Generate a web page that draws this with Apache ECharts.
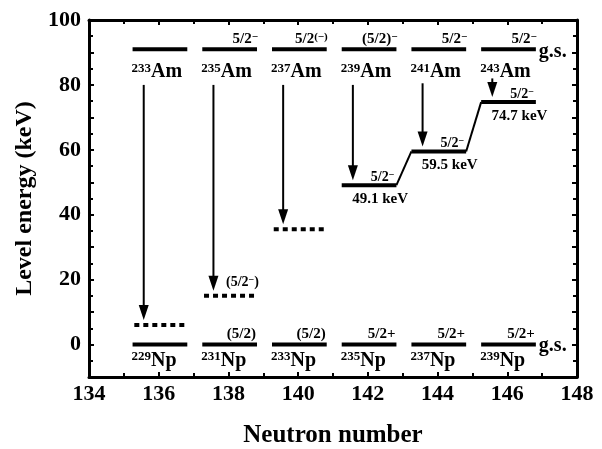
<!DOCTYPE html>
<html>
<head>
<meta charset="utf-8">
<script src="https://cdn.jsdelivr.net/npm/echarts@6/dist/echarts.min.js"></script>
<style>
  html, body { margin: 0; padding: 0; background: #fff; }
  #chart { width: 602px; height: 449px; }
</style>
</head>
<body>
<div id="chart"></div>
<script>
// Neutron number of each Np daughter: one Am -> Np alpha-decay column per entry
const neutronNumber = [136, 138, 140, 142, 144, 146];
const amMass = ['233', '235', '237', '239', '241', '243'];
const npMass = ['229', '231', '233', '235', '237', '239'];
// Ground-state spins; text inside {} is written as a superscript
const amSpin = ['', '5/2{−}', '5/2{(−)}', '(5/2){−}', '5/2{−}', '5/2{−}'];
const npSpin = ['', '(5/2)', '(5/2)', '5/2+', '5/2+', '5/2+'];
// Heights (keV scale) at which the ground states are drawn
const amGroundLevel = [91, 91, 91, 91, 91, 91];
const npGroundLevel = [0, 0, 0, 0, 0, 0];
// Np levels fed by the alpha decay (keV)
const fedLevel = [6, 15, 35.5, 49.1, 59.5, 74.7];
const fedTentative = [true, true, true, false, false, false];
const fedSpin = ['', '(5/2{−})', '', '5/2{−}', '5/2{−}', '5/2{−}'];
// Energy at which each alpha arrow starts (keV)
const arrowStart = [80, 80, 80, 80, 80.5, 82];
// Axis ticks
const xTicks = { min: 134, max: 148, step: 2 };
const yTicks = { min: -10, max: 100, step: 10, labelStep: 20 };

const serif = '"Liberation Serif", "Times New Roman", serif';
const black = '#000';

const rich = {
  nm: { fontFamily: serif, fontWeight: 'bold', fontSize: 20, lineHeight: 20, verticalAlign: 'bottom', color: black },
  ms: { fontFamily: serif, fontWeight: 'bold', fontSize: 13, lineHeight: 13, verticalAlign: 'top', color: black },
  sp: { fontFamily: serif, fontWeight: 'bold', fontSize: 15, lineHeight: 15, verticalAlign: 'bottom', color: black },
  sps: { fontFamily: serif, fontWeight: 'bold', fontSize: 11, lineHeight: 11, verticalAlign: 'top', color: black },
  fs: { fontFamily: serif, fontWeight: 'bold', fontSize: 14, lineHeight: 14, verticalAlign: 'bottom', color: black },
  fss: { fontFamily: serif, fontWeight: 'bold', fontSize: 10, lineHeight: 10, verticalAlign: 'top', color: black }
};

// Turn "5/2{−}" into rich text with the braced part raised
function spinText(s, base, sup) {
  const parts = s.split(/\{([^}]*)\}/);
  let out = '';
  parts.forEach((p, k) => {
    if (p === '') return;
    out += '{' + (k % 2 ? sup : base) + '|' + p + '}';
  });
  return out;
}
function nucleusText(mass, sym) {
  return '{ms|' + mass + '}{nm|' + sym + '}';
}

const barFrom = -0.75, barTo = 0.82;   // level bar extent around each column
const dashFrom = -0.7, dashTo = 0.76;

const lineEl = (p1, p2, w, dash) => ({
  type: 'line',
  shape: { x1: p1[0], y1: p1[1], x2: p2[0], y2: p2[1] },
  style: { stroke: black, lineWidth: w, lineDash: dash || null }
});
const textEl = (x, y, text, align, extra) => ({
  type: 'text',
  x: x, y: y,
  style: Object.assign({
    text: text, rich: rich, align: align, verticalAlign: 'middle',
    fill: black, fontFamily: serif, fontWeight: 'bold', fontSize: 14
  }, extra || {})
});

const columns = neutronNumber.map((n, i) => [n, i]);

const chart = echarts.init(document.getElementById('chart'), null, { renderer: 'canvas' });

const axisCommon = {
  type: 'value',
  axisLine: { show: true, onZero: false, lineStyle: { color: black, width: 3 } },
  axisTick: { show: true, inside: true, length: 5, lineStyle: { color: black, width: 2 } },
  minorTick: { show: true, splitNumber: 2, length: 4, lineStyle: { color: black, width: 2 } },
  splitLine: { show: false }
};
const tickLabel = { color: black, fontFamily: serif, fontWeight: 'bold', fontSize: 22 };

chart.setOption({
  animation: false,
  backgroundColor: '#fff',
  grid: { left: 89, right: 25, top: 20, bottom: 72, outerBoundsMode: 'none', containLabel: false },
  xAxis: [
    Object.assign({}, axisCommon, {
      position: 'bottom', min: xTicks.min, max: xTicks.max, interval: xTicks.step,
      axisLabel: Object.assign({ margin: 6 }, tickLabel),
      name: 'Neutron number', nameLocation: 'middle', nameGap: 46,
      nameTextStyle: { color: black, fontFamily: serif, fontWeight: 'bold', fontSize: 25 }
    }),
    Object.assign({}, axisCommon, {
      position: 'top', min: xTicks.min, max: xTicks.max, interval: xTicks.step,
      axisLabel: { show: false }
    })
  ],
  yAxis: [
    Object.assign({}, axisCommon, {
      position: 'left', min: yTicks.min, max: yTicks.max, interval: yTicks.step,
      axisLabel: Object.assign({
        margin: 8,
        formatter: v => (v % yTicks.labelStep === 0 ? String(v) : '')
      }, tickLabel),
      name: 'Level energy (keV)', nameLocation: 'middle', nameGap: 51, nameRotate: 90,
      nameTextStyle: { color: black, fontFamily: serif, fontWeight: 'bold', fontSize: 24 }
    }),
    Object.assign({}, axisCommon, {
      position: 'right', min: yTicks.min, max: yTicks.max, interval: yTicks.step,
      axisLabel: { show: false }
    })
  ],
  series: [
    {
      // Am and Np ground-state bars
      type: 'custom', name: 'Ground states', data: columns, clip: false,
      encode: { x: 0 },
      renderItem: (params, api) => {
        const i = params.dataIndex, n = neutronNumber[i];
        return {
          type: 'group',
          children: [
            lineEl(api.coord([n + barFrom, amGroundLevel[i]]), api.coord([n + barTo, amGroundLevel[i]]), 4),
            lineEl(api.coord([n + barFrom, npGroundLevel[i]]), api.coord([n + barTo, npGroundLevel[i]]), 4)
          ]
        };
      }
    },
    {
      // Np levels fed by the decay; measured ones joined into a staircase
      type: 'custom', name: 'Fed levels', data: columns, clip: false,
      encode: { x: 0 },
      renderItem: (params, api) => {
        const i = params.dataIndex, n = neutronNumber[i], e = fedLevel[i];
        const kids = [];
        if (fedTentative[i]) {
          kids.push(lineEl(api.coord([n + dashFrom, e]), api.coord([n + dashTo, e]), 4, [5, 4]));
        } else {
          kids.push(lineEl(api.coord([n + barFrom, e]), api.coord([n + barTo, e]), 4));
          if (i > 0 && !fedTentative[i - 1]) {
            kids.push(lineEl(api.coord([neutronNumber[i - 1] + barTo, fedLevel[i - 1]]),
                             api.coord([n + barFrom, e]), 2));
          }
        }
        return { type: 'group', children: kids };
      }
    },
    {
      // Alpha-decay arrows from each Am ground state
      type: 'custom', name: 'Alpha decays', data: columns, clip: false,
      encode: { x: 0 },
      renderItem: (params, api) => {
        const i = params.dataIndex, x = neutronNumber[i] - 0.43;
        const top = api.coord([x, arrowStart[i]]);
        const lvl = api.coord([x, fedLevel[i]]);
        const tipY = lvl[1] - 5, headLen = 15, headHalf = 5;
        return {
          type: 'group',
          children: [
            lineEl(top, [top[0], tipY - headLen + 2], 2),
            {
              type: 'polygon',
              shape: { points: [[top[0] - headHalf, tipY - headLen], [top[0] + headHalf, tipY - headLen], [top[0], tipY]] },
              style: { fill: black }
            }
          ]
        };
      }
    },
    {
      // Nuclide names, spins and energies
      type: 'custom', name: 'Labels', data: columns, clip: false,
      encode: { x: 0 },
      renderItem: (params, api) => {
        const i = params.dataIndex, n = neutronNumber[i];
        const kids = [];
        const am0 = api.coord([n + barFrom, amGroundLevel[i]]);
        const am1 = api.coord([n + barTo, amGroundLevel[i]]);
        const np0 = api.coord([n + barFrom, npGroundLevel[i]]);
        const np1 = api.coord([n + barTo, npGroundLevel[i]]);
        kids.push(textEl(am0[0] - 1, am0[1] + 23, nucleusText(amMass[i], 'Am'), 'left'));
        kids.push(textEl(np0[0] - 1, np0[1] + 16, nucleusText(npMass[i], 'Np'), 'left'));
        if (amSpin[i]) kids.push(textEl(am1[0] + 1, am1[1] - 10, spinText(amSpin[i], 'sp', 'sps'), 'right'));
        if (npSpin[i]) kids.push(textEl(np1[0] - 1, np1[1] - 10, spinText(npSpin[i], 'sp', 'sps'), 'right'));
        if (i === neutronNumber.length - 1) {
          kids.push(textEl(am1[0] + 3, am1[1] + 3, 'g.s.', 'left', { fontSize: 20 }));
          kids.push(textEl(np1[0] + 3, np1[1] + 1, 'g.s.', 'left', { fontSize: 20 }));
        }
        const e = fedLevel[i];
        if (fedSpin[i]) {
          const t = fedTentative[i];
          const end = api.coord([n + (t ? dashTo : barTo), e]);
          kids.push(textEl(end[0] + (t ? 4 : -2), end[1] + (t ? -13 : -8), spinText(fedSpin[i], 'fs', 'fss'), 'right'));
        }
        if (!fedTentative[i]) {
          const c = api.coord([n + 0.35, e]);
          kids.push(textEl(c[0], c[1] + 14, e.toFixed(1) + ' keV', 'center', { fontSize: 15 }));
        }
        return { type: 'group', children: kids };
      }
    }
  ]
});
</script>
</body>
</html>
